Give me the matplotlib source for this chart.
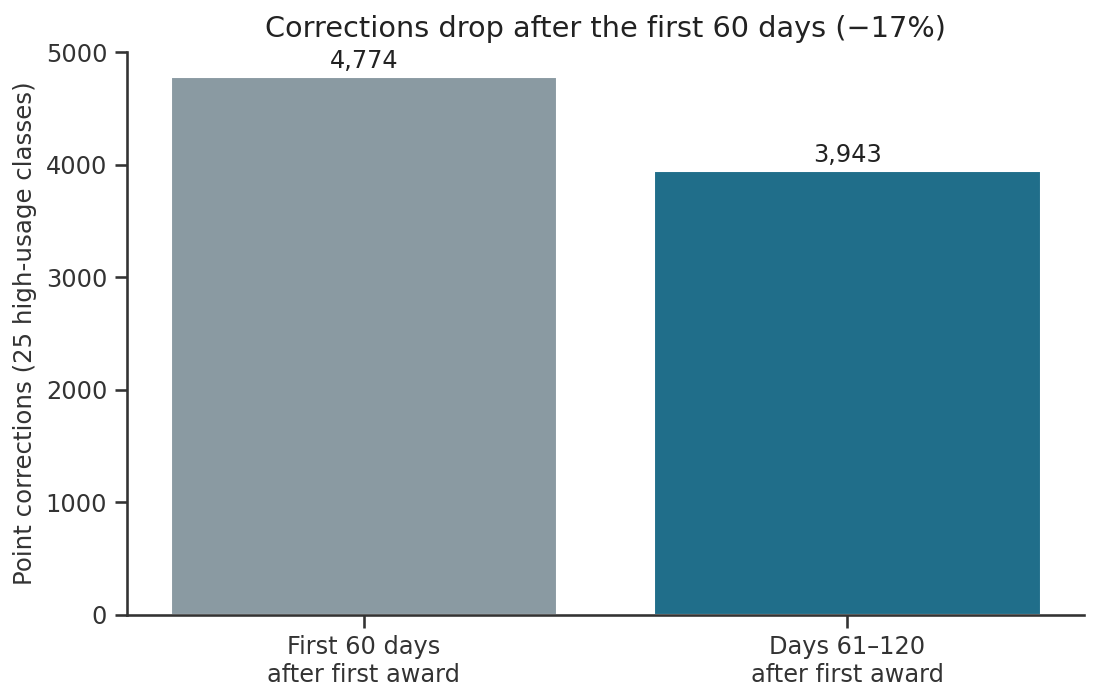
import matplotlib
matplotlib.use("Agg")
import matplotlib.pyplot as plt
import seaborn as sns

categories = ["First 60 days\nafter first award", "Days 61–120\nafter first award"]
values = [4774, 3943]
colors = ["#8A9AA2", "#206E8A"]
title = "Corrections drop after the first 60 days (−17%)"
ylabel = "Point corrections (25 high-usage classes)"

sns.set_theme(style="ticks")
plt.rcParams['font.family'] = ['DejaVu Sans']

fig = plt.figure(figsize=(1099/150, 698/150), dpi=150)
ax = fig.add_axes([127/1099, 1-615/698, (1084-127)/1099, (615-52)/698])
x = list(range(len(categories)))
bars = ax.bar(x, values, width=0.8, color=colors)
ax.set_ylim(0, 5000)
ax.set_xticks(x)
ax.set_xticklabels(categories, fontsize=11.5, color="#333333")
ax.tick_params(axis='y', labelsize=11.5, labelcolor="#333333", colors="#333333")
ax.tick_params(axis='x', colors="#333333")
for s in ["left", "bottom"]:
    ax.spines[s].set_color("#333333")
ax.set_ylabel(ylabel, fontsize=11.7, color="#333333")
ax.set_title(title, fontsize=13.8, color="#222222", pad=7)
ax.bar_label(bars, labels=[f"{v:,}" for v in values], padding=2, fontsize=11.5, color="#222222")
sns.despine(ax=ax)
fig.savefig("out.png", dpi=150)
